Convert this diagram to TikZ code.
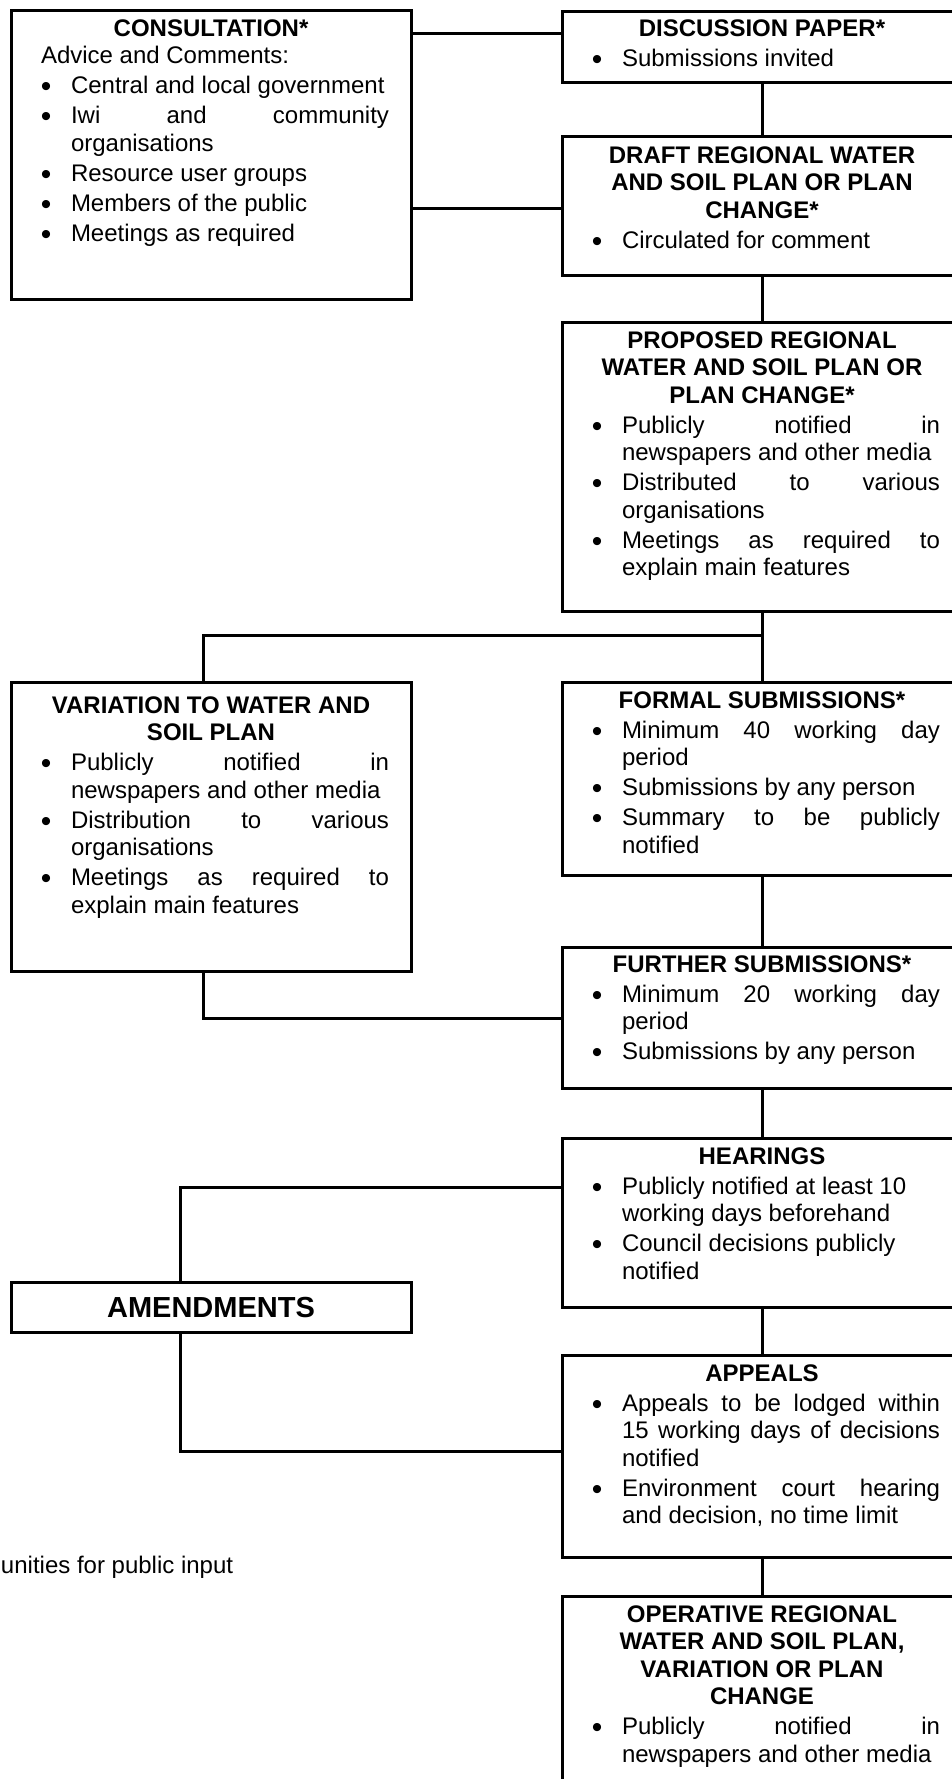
\documentclass[tikz,border=0pt]{standalone}
\usepackage{fontspec}
\setmainfont{Liberation Sans}
\newcommand{\bul}{\raisebox{-1.6pt}{\scalebox{1.25}{•}}}
\newcommand{\bitem}[1]{\par\noindent\hangindent=19pt\hangafter=1\hbox to 19pt{\hskip3.9pt\bul\hss}#1\par}
\newcommand{\boxsetup}{\fontsize{12}{13.75}\selectfont\parindent=0pt\parskip=1.25pt\tolerance=9999\hbadness=10000\hyphenpenalty=10000\exhyphenpenalty=10000}
\newcommand{\btitle}[1]{{\centering\bfseries #1\par}}
\newenvironment{boxtext}{\begin{minipage}[t]{178pt}\boxsetup}{\end{minipage}}
\begin{document}
\begin{tikzpicture}[x=0.5pt,y=-0.5pt,
  boxstyle/.style={draw, line width=1.5pt, rectangle, inner sep=0pt, outer sep=0pt, anchor=north west, minimum width=200pt},
  conn/.style={line width=1.5pt},
  txt/.style={inner sep=0pt, outer sep=0pt, anchor=base west}]
\useasboundingbox (0,0) rectangle (952,1779);

% boxes
\node[boxstyle, minimum height=144.5pt] (cons) at (11,10) {};
\node[boxstyle, minimum height=35.5pt] (disc) at (562,11) {};
\node[boxstyle, minimum height=69.5pt] (draft) at (562,136) {};
\node[boxstyle, minimum height=144.5pt] (prop) at (562,322) {};
\node[boxstyle, minimum height=144.5pt] (var) at (11,682) {};
\node[boxstyle, minimum height=96.5pt] (formal) at (562,682) {};
\node[boxstyle, minimum height=70.5pt] (further) at (562,947) {};
\node[boxstyle, minimum height=84.5pt] (hear) at (562,1138) {};
\node[boxstyle, minimum height=25pt, font=\fontsize{14.5}{17}\selectfont\bfseries] (amend) at (11,1282) {AMENDMENTS};
\node[boxstyle, minimum height=101pt] (appeals) at (562,1355) {};
\node[boxstyle, minimum height=130pt] (oper) at (562,1596) {};

% texts
\node[txt] (tcons) at (33,36) {\begin{boxtext}
\btitle{CONSULTATION*}
\vspace{-1.25pt}
\noindent\hspace*{4pt}Advice and Comments:\par
\bitem{Central and local government}
\bitem{Iwi and community\linebreak organisations}
\bitem{Resource user groups}
\bitem{Members of the public}
\bitem{Meetings as required}
\end{boxtext}};

\node[txt] (tdisc) at (584,36) {\begin{boxtext}
\btitle{DISCUSSION PAPER*}
\bitem{Submissions invited}
\end{boxtext}};

\node[txt] (tdraft) at (584,163) {\begin{boxtext}
\btitle{DRAFT REGIONAL WATER\\AND SOIL PLAN OR PLAN\\CHANGE*}
\bitem{Circulated for comment}
\end{boxtext}};

\node[txt] (tprop) at (584,348) {\begin{boxtext}
\btitle{PROPOSED REGIONAL\\WATER AND SOIL PLAN OR\\PLAN CHANGE*}
\bitem{Publicly notified in\linebreak newspapers and other media}
\bitem{Distributed to various\linebreak organisations}
\bitem{Meetings as required to\linebreak explain main features}
\end{boxtext}};

\node[txt] (tvar) at (33,713) {\begin{boxtext}
\btitle{VARIATION TO WATER AND\\SOIL PLAN}
\bitem{Publicly notified in\linebreak newspapers and other media}
\bitem{Distribution to various\linebreak organisations}
\bitem{Meetings as required to\linebreak explain main features}
\end{boxtext}};

\node[txt] (tformal) at (584,708) {\begin{boxtext}
\btitle{FORMAL SUBMISSIONS*}
\bitem{Minimum 40 working day\linebreak period}
\bitem{Submissions by any person}
\bitem{Summary to be publicly\linebreak notified}
\end{boxtext}};

\node[txt] (tfurther) at (584,972) {\begin{boxtext}
\btitle{FURTHER SUBMISSIONS*}
\bitem{Minimum 20 working day\linebreak period}
\bitem{Submissions by any person}
\end{boxtext}};

\node[txt] (thear) at (584,1164) {\begin{boxtext}
\btitle{HEARINGS}
{\raggedright
\bitem{Publicly notified at least 10\newline working days beforehand}
\bitem{Council decisions publicly\newline notified}}
\end{boxtext}};

\node[txt] (tappeals) at (584,1381) {\begin{boxtext}
\btitle{APPEALS}
\bitem{Appeals to be lodged within\linebreak 15 working days of decisions\linebreak notified}
\bitem{Environment court hearing\linebreak and decision, no time limit}
\end{boxtext}};

\node[txt] (toper) at (584,1622) {\begin{boxtext}
\btitle{OPERATIVE REGIONAL\\WATER AND SOIL PLAN,\\VARIATION OR PLAN\\CHANGE}
\bitem{Publicly notified in\linebreak newspapers and other media}
\end{boxtext}};

\node[txt, font=\fontsize{12}{13.75}\selectfont] (note) at (1,1573) {unities for public input};

% connectors
\draw[conn] (cons.east |- 0,33) -- (disc.west |- 0,33);
\draw[conn] (cons.east |- 0,208) -- (draft.west |- 0,208);
\draw[conn] (disc.south) -- (draft.north);
\draw[conn] (draft.south) -- (prop.north);
\draw[conn] (prop.south) -- (formal.north);
\draw[conn] (formal.south) -- (further.north);
\draw[conn] (further.south) -- (hear.north);
\draw[conn] (hear.south) -- (appeals.north);
\draw[conn] (appeals.south) -- (oper.north);
\draw[conn] (prop.south |- 0,635) -- (203,635) -- (var.north -| 203,0);
\draw[conn] (var.south -| 203,0) -- (203,1018) -- (further.west |- 0,1018);
\draw[conn] (hear.west |- 0,1187) -- (180,1187) -- (amend.north -| 180,0);
\draw[conn] (amend.south -| 180,0) -- (180,1451) -- (appeals.west |- 0,1451);
\end{tikzpicture}
\end{document}
